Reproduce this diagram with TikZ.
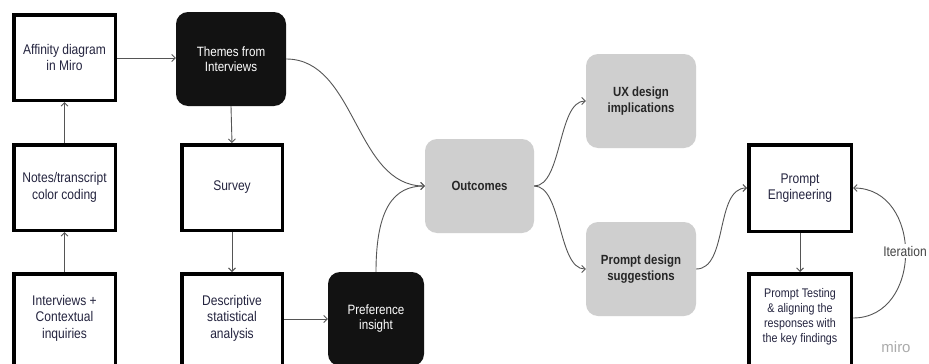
\documentclass[tikz,border=0pt]{standalone}
\usepackage{fontspec}
\setmainfont{Liberation Sans}[FakeStretch=0.86]
\newfontfamily\mirofont{Liberation Sans}
\usetikzlibrary{arrows.meta}
\definecolor{navytxt}{HTML}{24243F}
\definecolor{boxgray}{HTML}{CFCFCF}
\definecolor{boxblack}{HTML}{121212}
\definecolor{conncol}{HTML}{555555}
\definecolor{itcol}{HTML}{444444}
\definecolor{mirocol}{HTML}{ABABAB}
\tikzset{
  wbox/.style={draw=black, line width=3.5pt, fill=white, inner sep=0pt, align=center,
    text=navytxt, font=\fontsize{14}{16.5}\selectfont, minimum width=101.5pt, minimum height=85.5pt},
  wlab/.style={align=center, text=navytxt, font=\fontsize{14}{16.5}\selectfont, inner sep=0pt},
  bbox/.style={fill=boxblack, rounded corners=12pt, inner sep=0pt, align=center, text=white,
    font=\fontsize{13.5}{15}\selectfont, minimum width=110pt, minimum height=94pt},
  gbox/.style={fill=boxgray, rounded corners=12pt, inner sep=0pt, align=center, text=black!85,
    font=\bfseries\fontsize{13.3}{16}\selectfont, minimum width=110pt, minimum height=94pt},
  conn/.style={draw=conncol, line width=0.9pt, -{Straight Barb[length=3.5pt,width=7pt]}},
}
\begin{document}
\begin{tikzpicture}[x=1pt, y=-1pt]
\useasboundingbox (0,0) rectangle (929,364);
\clip (0,0) rectangle (929,364);
\fill[white] (0,0) rectangle (929,364);

% left column
\node[wbox] (aff) at (64.5,57.5) {Affinity diagram\\in Miro};
\node[wbox] (notes) at (64.5,187.5) {Notes/transcript\\color coding};
\node[wbox, minimum height=96pt, label={[wlab, yshift=3.75pt]center:{Interviews +\\Contextual\\inquiries}}] (intv) at (64.5,321.75) {};

% middle column
\node[bbox] (themes) at (231,59) {Themes from\\Interviews};
\node[wbox, minimum width=100.5pt] (survey) at (232,187.5) {Survey};
\node[wbox, minimum width=100.5pt, minimum height=96pt, label={[wlab, yshift=3.75pt]center:{Descriptive\\statistical\\analysis}}] (desc) at (232,321.75) {};
\node[bbox, minimum width=96pt] (pref) at (376,319) {Preference\\insight};

% outcomes
\node[gbox, minimum width=109pt] (outc) at (479.5,186) {Outcomes};
\node[gbox] (ux) at (641,101) {UX design\\implications};
\node[gbox] (pds) at (641,269) {Prompt design\\suggestions};

% right column
\node[wbox, minimum width=102.5pt, minimum height=86.5pt] (pe) at (800,188) {Prompt\\Engineering};
\node[wbox, minimum width=102.5pt, minimum height=96pt,
  label={[wlab, font=\fontsize{12.5}{15}\selectfont, yshift=4.75pt]center:{Prompt Testing\\\& aligning the\\responses with\\the key findings}}] (pt) at (800,321.75) {};

% connectors
\draw[conn] (intv.north) -- (notes.south);
\draw[conn] (notes.north) -- (aff.south);
\draw[conn] (aff.east |- 0,58) -- (themes.west |- 0,58);
\draw[conn] (themes.south) -- (survey.north);
\draw[conn] (survey.south) -- (desc.north);
\draw[conn] (desc.east |- pref.west) -- (pref.west);
\draw[conn] (themes.east) .. controls +(70,0) and +(-70,0) .. (outc.west);
\draw[conn] (pref.north) .. controls +(0,-65) and +(-30,0) .. (outc.west);
\draw[conn] (outc.east) .. controls +(28,0) and +(-28,0) .. (ux.west);
\draw[conn] (outc.east) .. controls +(28,0) and +(-28,0) .. (pds.west);
\draw[conn] (pds.east) .. controls +(32,0) and +(-32,0) .. (pe.west);
\draw[conn] (pe.south) -- (pt.north);
\draw[conn] (pt.east |- 0,318) .. controls +(70,0) and +(70,0) .. (pe.east);
\node[fill=white, inner sep=1.5pt, text=itcol, font=\fontsize{14}{15}\selectfont] (iter) at (905,251) {Iteration};

\node[text=mirocol, font=\mirofont\fontsize{15}{16}\selectfont] (miro) at (896,347) {miro};
\end{tikzpicture}
\end{document}
